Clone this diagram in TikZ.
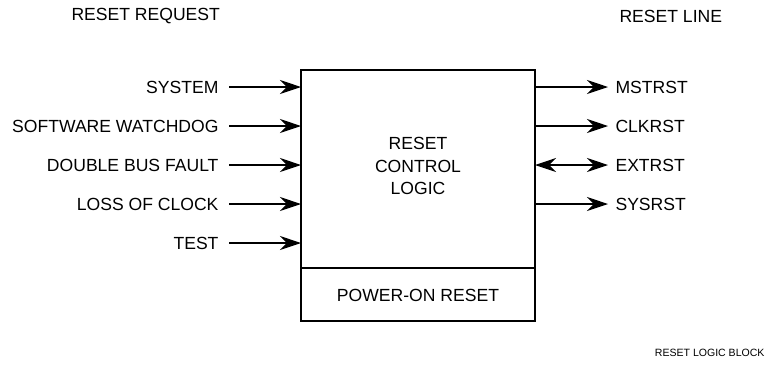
\documentclass[tikz,border=0pt]{standalone}
\usepackage{fontspec}
\setmainfont{Liberation Sans}
\usetikzlibrary{arrows.meta, positioning}
\tikzset{
  every picture/.style={font=\fontsize{10}{12}\selectfont, line width=0.6pt},
  sig/.style={inner sep=0pt, anchor=#1},
  sig/.default=east,
  arrow/.style={-{Stealth[length=12pt, width=8pt, inset=4pt]}, line width=0.6pt},
  biarrow/.style={{Stealth[length=12pt, width=8pt, inset=4pt]}-{Stealth[length=12pt, width=8pt, inset=4pt]}, line width=0.6pt},
  heading/.style={inner sep=0pt, anchor=west},
}
\begin{document}
\begin{tikzpicture}[x=0.02cm, y=-0.02cm]
  \useasboundingbox (0,0) rectangle (766,366);
  % main block
  \node[draw, line width=1.1pt, minimum width=4.68cm, minimum height=5.02cm, inner sep=0pt] (blk) at (418,195.5) {};
  \coordinate (divl) at (301,268);
  \coordinate (divr) at (535,268);
  \draw (divl) -- (divr);
  \node[align=center, inner sep=0pt] (ctl) at (418,166) {RESET\\[1pt]CONTROL\\[1pt]LOGIC};
  \node[inner sep=0pt] (por) at (418,295) {POWER-ON RESET};
  % reset requests
  \node[heading] (req) at (71,16) {RESET REQUEST};
  \foreach \i/\y/\t in {0/87/SYSTEM, 1/126/SOFTWARE WATCHDOG, 2/165/DOUBLE BUS FAULT, 3/204/LOSS OF CLOCK, 4/243/TEST} {
    \node[sig] (in\i) at (219,\y) {\t};
    \coordinate (inx\i) at (301,\y);
    \draw[arrow] ([xshift=10*0.02cm]in\i.east) -- (inx\i);
  }
  % reset lines
  \node[heading] (line) at (619,16) {RESET LINE};
  \foreach \i/\y/\t in {0/87/MSTRST, 1/126/CLKRST, 2/165/EXTRST, 3/204/SYSRST} {
    \node[sig=west] (out\i) at (615,\y) {\t};
    \coordinate (outx\i) at (535,\y);
  }
  \draw[arrow] (outx0) -- ([xshift=-7*0.02cm]out0.west);
  \draw[arrow] (outx1) -- ([xshift=-7*0.02cm]out1.west);
  \draw[biarrow] (outx2) -- ([xshift=-7*0.02cm]out2.west);
  \draw[arrow] (outx3) -- ([xshift=-7*0.02cm]out3.west);
  \node[inner sep=0pt, anchor=east, font=\fontsize{6}{7}\selectfont] (cap) at (765,353) {RESET LOGIC BLOCK};
\end{tikzpicture}
\end{document}
